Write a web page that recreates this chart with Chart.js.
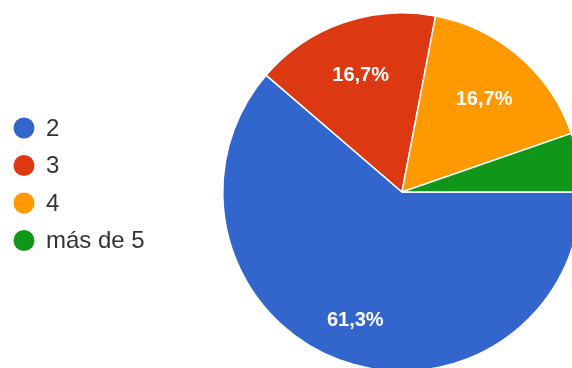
<!DOCTYPE html>
<html>
<head>
<meta charset="utf-8">
<script src="https://cdn.jsdelivr.net/npm/chart.js@4/dist/chart.umd.min.js"></script>
<style>
  html, body { margin: 0; padding: 0; background: #fff; overflow: hidden; }
  #wrap { position: relative; width: 572px; height: 368px; overflow: hidden; }
  #pieChart { position: absolute; left: 0; top: 0; }
</style>
</head>
<body>
<div id="wrap">
  <canvas id="pieChart" width="620" height="400"></canvas>
</div>
<script>
// answers and their share of responses (%)
const categories = ['2', '3', '4', 'más de 5'];
const shares = [61.3, 16.7, 16.7, 5.3];

const sliceColors = ['#3366cc', '#dc3912', '#ff9900', '#109618'];

// percentage text inside each slice (small slices are left blank)
const sliceLabels = {
    id: 'sliceLabels',
    afterDatasetsDraw(chart) {
        const ctx = chart.ctx;
        const meta = chart.getDatasetMeta(0);
        const values = chart.data.datasets[0].data;
        ctx.save();
        ctx.font = 'bold 20px Arial, "Liberation Sans", sans-serif';
        ctx.fillStyle = '#ffffff';
        ctx.textAlign = 'center';
        ctx.textBaseline = 'middle';
        meta.data.forEach((arc, i) => {
            if (values[i] < 8) return;
            const p = arc.getProps(['x', 'y', 'startAngle', 'endAngle', 'outerRadius'], true);
            const mid = (p.startAngle + p.endAngle) / 2;
            const r = p.outerRadius * (values[i] > 50 ? 0.75 : 0.7);
            const text = values[i].toFixed(1).replace('.', ',') + '%';
            ctx.fillText(text, p.x + Math.cos(mid) * r, p.y + Math.sin(mid) * r + 2);
        });
        ctx.restore();
    }
};

// legend on the left with round markers
const sideLegend = {
    id: 'sideLegend',
    afterDraw(chart) {
        const ctx = chart.ctx;
        const colors = chart.data.datasets[0].backgroundColor;
        ctx.save();
        ctx.font = '24px Arial, "Liberation Sans", sans-serif';
        ctx.textBaseline = 'middle';
        ctx.textAlign = 'left';
        chart.data.labels.forEach((label, i) => {
            const y = 128 + i * 37.5;
            ctx.beginPath();
            ctx.arc(24, y, 10.5, 0, Math.PI * 2);
            ctx.fillStyle = colors[i];
            ctx.fill();
            ctx.fillStyle = '#333333';
            ctx.fillText(label, 46, y + 1);
        });
        ctx.restore();
    }
};

const ctx = document.getElementById('pieChart').getContext('2d');
new Chart(ctx, {
    type: 'pie',
    data: {
        labels: categories,
        datasets: [{
            data: shares,
            backgroundColor: sliceColors,
            borderColor: '#ffffff',
            borderWidth: 1.5
        }]
    },
    options: {
        responsive: false,
        animation: false,
        events: [],
        rotation: 90,
        layout: {
            padding: { left: 222, top: 12, right: 38, bottom: 28 }
        },
        plugins: {
            legend: { display: false },
            tooltip: { enabled: false }
        }
    },
    plugins: [sliceLabels, sideLegend]
});
</script>
</body>
</html>
